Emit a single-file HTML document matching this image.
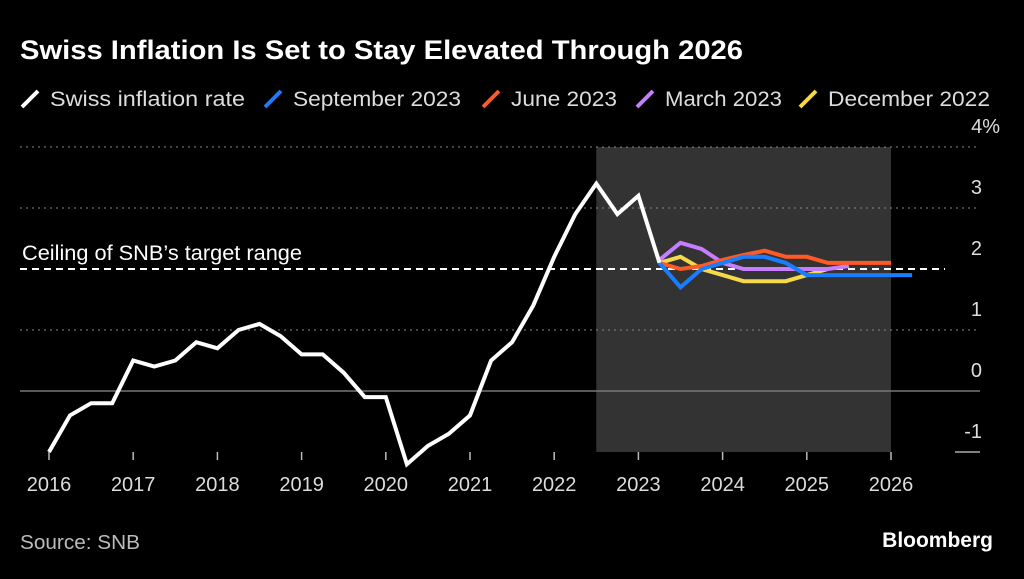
<!DOCTYPE html>
<html><head><meta charset="utf-8"><style>
body{margin:0;background:#000;width:1024px;height:574px;overflow:hidden;font-family:"Liberation Sans",sans-serif;color:#fff}
</style></head><body>
<svg width="1024" height="574" id="svg">
<text x="20" y="59" font-size="27" font-weight="bold" fill="#fff" textLength="723" lengthAdjust="spacingAndGlyphs">Swiss Inflation Is Set to Stay Elevated Through 2026</text>
<g id="legend" font-size="21" fill="#ddd"></g>
<rect id="shade" fill="#333"></rect>
<g id="grid"></g>
<g id="series"></g>
<text x="22" y="260" font-size="21" fill="#fff" textLength="280" lengthAdjust="spacingAndGlyphs">Ceiling of SNB’s target range</text>
<text x="20" y="549" font-size="20" fill="#bbb" textLength="120" lengthAdjust="spacingAndGlyphs">Source: SNB</text>
<text x="993" y="547" font-size="21" font-weight="bold" fill="#fff" text-anchor="end">Bloomberg</text>
</svg>
<script>
const yTicks=[4,3,2,1,0,-1];
const xYears=[2016,2017,2018,2019,2020,2021,2022,2023,2024,2025,2026];
const actual=[-1.0,-0.4,-0.2,-0.2,0.5,0.4,0.5,0.8,0.7,1.0,1.1,0.9,0.6,0.6,0.3,-0.1,-0.1,-1.2,-0.9,-0.7,-0.4,0.5,0.8,1.4,2.2,2.9,3.4,2.9,3.2,2.1];
const fcStart=2023.25;
const dec22=[2.1,2.2,2.0,1.9,1.8,1.8,1.8,1.9,2.0];
const mar23=[2.15,2.43,2.33,2.1,2.0,2.0,2.0,2.0,2.0,2.05];
const jun23=[2.1,2.0,2.05,2.15,2.23,2.3,2.2,2.2,2.1,2.1,2.1,2.1];
const sep23=[2.1,1.7,2.0,2.1,2.2,2.2,2.1,1.9,1.9,1.9,1.9,1.9,1.9];
const NS='http://www.w3.org/2000/svg';
const X=t=>49+(t-2016)*84.2, Y=v=>391-61*v;
function mk(tag,at,parent){const e=document.createElementNS(NS,tag);for(const k in at)e.setAttribute(k,at[k]);document.getElementById(parent).appendChild(e);return e;}
const sh=document.getElementById('shade');
sh.setAttribute('x',X(2022.5));sh.setAttribute('width',X(2026)-X(2022.5));sh.setAttribute('y',Y(4));sh.setAttribute('height',Y(-1)-Y(4));
yTicks.forEach(v=>{
 let l;
 if(v===0){l=mk('line',{x1:20,x2:980,y1:Y(v),y2:Y(v),stroke:'#777','stroke-width':1.5},'grid');}
 else if(v===-1){l=mk('line',{x1:955,x2:980,y1:Y(v),y2:Y(v),stroke:'#aaa','stroke-width':1.5},'grid');}
 else if(v===2){l=mk('line',{x1:20,x2:945,y1:Y(v),y2:Y(v),stroke:'#fff','stroke-width':2,'stroke-dasharray':'7,5'},'grid');}
 else {l=mk('line',{x1:20,x2:980,y1:Y(v),y2:Y(v),stroke:'#888','stroke-width':1,'stroke-dasharray':'2,4'},'grid');}
 
 
 const t=mk('text',{x:v===4?1000:982,y:Y(v)-14,'font-size':20,fill:'#ddd','text-anchor':'end'},'grid');t.textContent=v===4?'4%':String(v);
 
 
});
xYears.forEach(yr=>{
 const tk=mk('line',{x1:X(yr),x2:X(yr),y1:452,y2:460,stroke:'#bbb','stroke-width':1.5},'grid');
 
 
 const t=mk('text',{x:X(yr),y:491,'font-size':20,fill:'#ddd','text-anchor':'middle'},'grid');t.textContent=yr;
 
 
});
function line(arr,start,color,name){
 const pts=arr.map((v,i)=>X(start+i*0.25).toFixed(1)+','+Y(v).toFixed(1)).join(' ');
 const p=mk('polyline',{points:pts,fill:'none',stroke:color,'stroke-width':4,'stroke-linejoin':'miter'},'series');
 
 
}
line(dec22,fcStart,'#f5d94a','series-december-2022');
line(mar23,fcStart,'#c77dff','series-march-2023');
line(jun23,fcStart,'#ff5a26','series-june-2023');
line(sep23,fcStart,'#1a7cff','series-september-2023');
line(actual,2016,'#fff','series-swiss-inflation');
const leg=[['Swiss inflation rate','#fff',22,195],['September 2023','#1a7cff',265,168],['June 2023','#ff5a26',483,106],['March 2023','#c77dff',637,117],['December 2022','#f5d94a',800,162]];
leg.forEach(([lab,c,x,w])=>{
 const m=mk('line',{x1:x,x2:x+16,y1:107,y2:91,stroke:c,'stroke-width':4},'legend');
 
 
 const t=mk('text',{x:x+28,y:106,'font-size':21,fill:'#ddd',textLength:w,lengthAdjust:'spacingAndGlyphs'},'legend');t.textContent=lab;
 
 
});
</script>
</body></html>
